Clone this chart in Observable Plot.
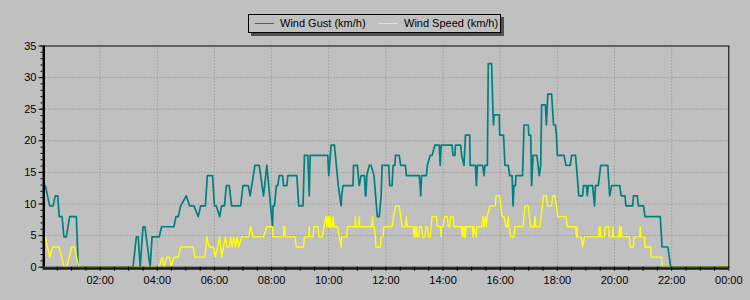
<!DOCTYPE html>
<html>
<head>
<meta charset="utf-8">
<script src="https://cdn.jsdelivr.net/npm/d3@7"></script>
<script src="https://cdn.jsdelivr.net/npm/@observablehq/plot@0.6"></script>
<style>
  html, body { margin: 0; padding: 0; background: #c0c0c0; }
  #wrap { position: relative; width: 750px; height: 300px; overflow: hidden; }
  #legend {
    position: absolute; left: 248px; top: 14px; width: 251px; height: 17px;
    border: 1px solid #000; box-shadow: 3px 3px 0 #505050; background: #c0c0c0;
    font: 11px "Liberation Sans", Arial, sans-serif; color: #000;
  }
  #legend .sw { position: absolute; top: 8px; height: 0; border-top: 1px solid; width: 19px; }
  #legend .lb { position: absolute; top: 1px; line-height: 15px; white-space: nowrap; }
</style>
</head>
<body>
<div id="wrap">
  <div id="legend">
    <span class="sw" id="sw1" style="left:6px;"></span><span class="lb" id="lb1" style="left:31px;"></span>
    <span class="sw" id="sw2" style="left:130px;"></span><span class="lb" id="lb2" style="left:155px;"></span>
  </div>
</div>
<script>
// ---- data (time in minutes after midnight, values in km/h) ----
const seriesNames = ["Wind Gust (km/h)", "Wind Speed (km/h)"];
const seriesColors = ["#008080", "#ffff00"];

const gustMinutes = [5,14,21,26,31,34,40,44,49,56,70,74,189,196,200,204,210,214,225,229,244,249,275,279,284,289,301,308,317,326,331,341,345,356,360,364,371,375,381,385,391,396,415,420,431,435,445,454,463,470,482,483,486,490,493,496,503,505,512,514,533,537,546,549,556,559,561,598,600,605,612,618,620,623,626,627,630,651,652,660,664,668,675,677,678,680,685,689,695,702,706,710,712,726,728,733,735,739,740,748,751,761,763,790,792,793,795,805,807,813,817,823,832,834,836,859,861,865,866,877,879,884,887,896,897,908,910,912,923,926,928,933,935,942,945,946,947,958,959,967,970,977,980,985,987,989,992,993,1007,1010,1019,1020,1024,1026,1029,1037,1042,1045,1047,1055,1057,1060,1068,1072,1076,1078,1080,1094,1098,1107,1110,1118,1120,1125,1133,1135,1141,1143,1145,1154,1156,1158,1160,1166,1171,1186,1187,1190,1194,1211,1214,1222,1224,1238,1240,1248,1250,1261,1264,1296,1300,1312,1315,1318,1438];
const gustKmh = [12.9,9.7,9.7,11.3,11.3,8.0,8.0,4.8,4.8,8.0,8.0,0,0,4.8,4.8,0,6.4,6.4,0,4.8,4.8,6.4,6.4,8.0,8.0,9.7,11.3,9.7,9.7,8.0,9.7,9.7,14.5,14.5,9.7,9.7,8.0,9.7,9.7,12.9,12.9,9.7,9.7,12.9,12.9,11.3,16.1,16.1,11.3,16.1,6.4,9.7,9.7,12.9,12.9,14.5,14.5,12.9,12.9,14.5,14.5,9.7,9.7,17.7,17.7,11.3,17.7,17.7,14.5,19.3,19.3,14.5,12.9,11.3,9.7,11.3,12.9,12.9,16.1,16.1,12.9,14.5,14.5,11.3,11.3,14.5,16.1,16.1,14.5,8.0,8.0,11.3,16.1,16.1,12.9,12.9,16.1,16.1,17.7,17.7,16.1,16.1,14.5,14.5,12.9,11.3,14.5,14.5,16.1,17.7,17.7,19.3,19.3,16.1,19.3,19.3,17.7,17.7,19.3,19.3,17.7,16.1,20.9,20.9,16.1,16.1,12.9,16.1,16.1,14.5,16.1,16.1,32.2,32.2,24.1,22.5,24.1,24.1,20.9,20.9,16.1,16.1,14.5,14.5,9.7,12.9,12.9,14.5,14.5,22.5,22.5,20.9,20.9,12.9,17.7,17.7,14.5,16.1,25.7,25.7,22.5,27.4,27.4,22.5,22.5,20.9,17.7,17.7,16.1,16.1,17.7,17.7,16.1,11.3,11.3,12.9,12.9,11.3,12.9,12.9,11.3,9.7,12.9,12.9,16.1,16.1,14.5,11.3,12.9,12.9,11.3,11.3,9.7,9.7,11.3,11.3,9.7,9.7,8.0,8.0,3.2,3.2,1.6,0,0];

const speedMinutes = [5,14,20,34,44,50,60,66,75,244,250,254,260,266,269,275,284,289,315,319,340,344,349,358,362,371,375,379,383,386,391,394,397,401,404,408,411,417,432,436,441,463,470,482,483,505,506,508,509,529,532,547,549,558,559,560,567,569,577,580,586,590,594,596,597,599,600,602,603,605,608,609,611,619,622,626,627,638,639,655,656,657,663,664,665,690,692,693,695,698,699,708,710,714,716,733,736,741,748,751,754,761,763,765,778,779,782,783,785,786,789,791,795,797,802,804,807,809,813,815,817,826,828,835,836,837,840,843,849,851,854,856,861,863,879,880,882,884,886,887,888,902,903,904,910,911,921,924,926,929,931,933,938,950,951,959,961,964,968,972,975,977,978,979,982,989,991,1008,1012,1019,1021,1024,1031,1033,1035,1043,1046,1051,1057,1059,1068,1070,1075,1078,1081,1098,1101,1118,1120,1121,1122,1130,1133,1137,1167,1168,1169,1170,1171,1179,1180,1188,1189,1196,1197,1198,1209,1211,1212,1214,1215,1231,1233,1240,1241,1253,1254,1255,1263,1264,1276,1277,1299,1300,1438];
const speedKmh = [4.8,1.6,3.2,3.2,0,0,3.2,3.2,0,0,1.6,0,1.6,1.6,0,1.6,1.6,3.2,3.2,1.6,1.6,4.8,3.2,3.2,1.6,4.8,1.6,3.2,4.8,3.2,3.2,4.8,3.2,4.8,3.2,4.8,3.2,4.8,4.8,6.4,4.8,4.8,6.4,6.4,4.8,4.8,6.4,6.4,4.8,4.8,3.2,3.2,4.8,4.8,6.4,4.8,4.8,6.4,6.4,4.8,4.8,6.4,8.0,6.4,8.0,6.4,8.0,6.4,8.0,6.4,6.4,8.0,6.4,6.4,4.8,3.2,4.8,4.8,6.4,6.4,8.0,6.4,6.4,8.0,6.4,6.4,8.0,6.4,6.4,4.8,3.2,3.2,4.8,4.8,6.4,6.4,8.0,9.7,9.7,8.0,6.4,6.4,8.0,6.4,6.4,4.8,6.4,4.8,6.4,4.8,4.8,6.4,6.4,4.8,4.8,6.4,6.4,4.8,4.8,6.4,8.0,8.0,6.4,6.4,4.8,6.4,6.4,8.0,8.0,6.4,6.4,8.0,8.0,6.4,6.4,4.8,6.4,4.8,6.4,4.8,6.4,6.4,4.8,6.4,4.8,6.4,6.4,8.0,6.4,8.0,6.4,8.0,9.7,9.7,11.3,11.3,9.7,8.0,8.0,6.4,6.4,8.0,6.4,6.4,4.8,4.8,6.4,6.4,9.7,9.7,8.0,6.4,6.4,8.0,6.4,6.4,8.0,11.3,11.3,9.7,9.7,11.3,11.3,9.7,8.0,8.0,6.4,6.4,4.8,6.4,4.8,4.8,3.2,4.8,4.8,6.4,4.8,6.4,4.8,4.8,6.4,6.4,4.8,4.8,6.4,4.8,4.8,6.4,4.8,6.4,4.8,4.8,3.2,3.2,4.8,4.8,6.4,4.8,4.8,3.2,3.2,1.6,1.6,0,0];

const xTickMinutes = [120,240,360,480,600,720,840,960,1080,1200,1320,1440];
const xTickLabels = ["02:00","04:00","06:00","08:00","10:00","12:00","14:00","16:00","18:00","20:00","22:00","00:00"];
const yTicks = [0,5,10,15,20,25,30,35];

// ---- legend ----
document.getElementById("sw1").style.borderColor = seriesColors[0];
document.getElementById("sw2").style.borderColor = seriesColors[1];
document.getElementById("lb1").textContent = seriesNames[0];
document.getElementById("lb2").textContent = seriesNames[1];

const halfHours = d3.range(30, 1441, 30);
const minorY = d3.range(0, 36, 1);
const noLabel = () => "";

const chart = Plot.plot({
  width: 750,
  height: 300,
  marginLeft: 42.5,
  marginRight: 21.7,
  marginTop: 45.5,
  marginBottom: 33.3,
  style: {background: "#c0c0c0", fontFamily: "'Liberation Sans', Arial, sans-serif", fontSize: "11px", color: "#000", overflow: "visible"},
  x: {type: "linear", domain: [0, 1440]},
  y: {type: "linear", domain: [0, 35]},
  marks: [
    Plot.gridX(xTickMinutes.slice(0, -1), {stroke: "#8c8c8c", strokeOpacity: 1, strokeDasharray: "1,2"}),
    Plot.gridY(yTicks.slice(1, -1), {stroke: "#8c8c8c", strokeOpacity: 1, strokeDasharray: "1,2"}),
    Plot.line(gustKmh, {x: gustMinutes, y: gustKmh, stroke: seriesColors[0], strokeWidth: 1.7, curve: "linear"}),
    Plot.line(speedKmh, {x: speedMinutes, y: speedKmh, stroke: seriesColors[1], strokeWidth: 1.4, curve: "linear"}),
    Plot.frame({stroke: "#000", strokeWidth: 1}),
    Plot.ruleY([0], {stroke: "#1a1a1a", strokeWidth: 2, dy: 1.5}),
    Plot.ruleX([0], {stroke: "#000", strokeWidth: 2, dx: 1}),
    Plot.axisY(minorY, {tickSize: 2, tickFormat: noLabel, label: null, stroke: "#000"}),
    Plot.axisY(yTicks, {tickSize: 4, tickPadding: 2.5, tickFormat: d => String(d), label: null, stroke: "#000", fill: "#000"}),
    Plot.axisX(halfHours, {tickSize: 4, tickFormat: noLabel, label: null, stroke: "#000"}),
    Plot.axisX(xTickMinutes, {tickSize: 0, tickPadding: 9, tickFormat: d => xTickLabels[xTickMinutes.indexOf(d)], label: null, fill: "#000"})
  ]
});
document.getElementById("wrap").prepend(chart);
</script>
</body>
</html>
